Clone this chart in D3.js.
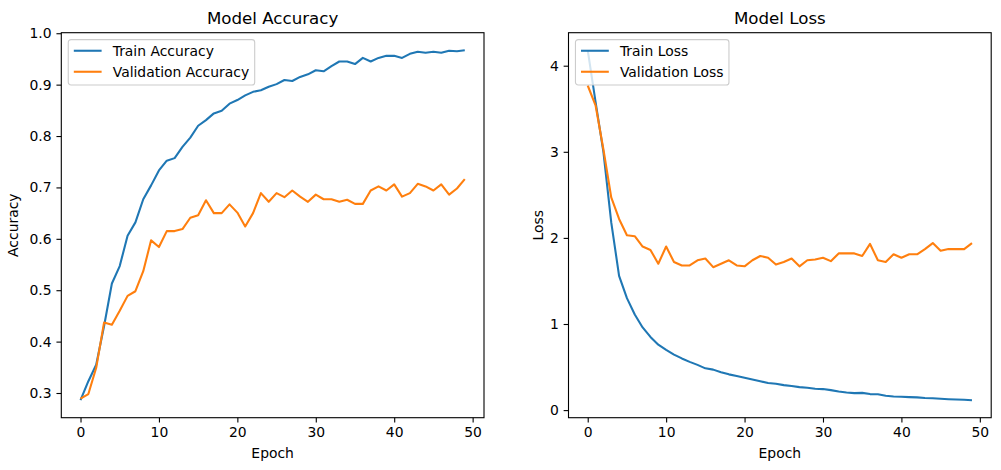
<!DOCTYPE html>
<html>
<head>
<meta charset="utf-8">
<script src="https://cdn.jsdelivr.net/npm/d3@7"></script>
<style>
  html, body { margin: 0; padding: 0; background: #fff; }
  svg { display: block; }
  text { font-family: "DejaVu Sans", sans-serif; fill: #000; }
</style>
</head>
<body>
<svg id="chart" width="1001" height="470"></svg>
<script>
// ---- data ----
const epochs = [0,1,2,3,4,5,6,7,8,9,10,11,12,13,14,15,16,17,18,19,20,21,22,23,24,25,26,27,28,29,30,31,32,33,34,35,36,37,38,39,40,41,42,43,44,45,46,47,48,49];

const trainAccuracy = [0.286,0.323,0.355,0.430,0.513,0.547,0.606,0.632,0.677,0.704,
  0.733,0.752,0.757,0.779,0.797,0.820,0.831,0.844,0.849,0.863,
  0.870,0.879,0.886,0.889,0.896,0.901,0.909,0.907,0.915,0.920,
  0.928,0.926,0.936,0.945,0.945,0.940,0.952,0.945,0.952,0.956,
  0.956,0.952,0.960,0.964,0.962,0.964,0.962,0.966,0.965,0.967];

const valAccuracy = [0.289,0.298,0.349,0.437,0.433,0.460,0.489,0.498,0.537,0.597,
  0.584,0.615,0.615,0.619,0.641,0.646,0.675,0.650,0.650,0.667,
  0.651,0.624,0.650,0.689,0.672,0.689,0.681,0.694,0.682,0.672,
  0.686,0.677,0.677,0.672,0.676,0.668,0.668,0.694,0.702,0.694,
  0.706,0.682,0.689,0.707,0.702,0.694,0.706,0.686,0.698,0.716];

const trainLoss = [4.18,3.58,3.00,2.18,1.56,1.30,1.11,0.96,0.85,0.76,
  0.70,0.645,0.60,0.56,0.525,0.485,0.47,0.44,0.415,0.395,
  0.375,0.355,0.335,0.315,0.305,0.29,0.28,0.267,0.26,0.248,
  0.244,0.232,0.216,0.205,0.197,0.20,0.186,0.184,0.166,0.158,
  0.155,0.151,0.148,0.14,0.137,0.131,0.127,0.123,0.121,0.115];

const valLoss = [3.77,3.54,3.03,2.47,2.22,2.03,2.02,1.90,1.86,1.70,
  1.90,1.72,1.68,1.68,1.74,1.76,1.66,1.70,1.74,1.68,
  1.67,1.74,1.79,1.77,1.69,1.72,1.76,1.67,1.74,1.75,
  1.77,1.73,1.82,1.82,1.82,1.79,1.93,1.74,1.72,1.81,
  1.77,1.81,1.81,1.87,1.94,1.85,1.87,1.87,1.87,1.94];

const xTicks = [0,10,20,30,40,50];
const accTicks = [0.3,0.4,0.5,0.6,0.7,0.8,0.9,1.0];
const lossTicks = [0,1,2,3,4];

const panels = [
  { title: "Model Accuracy", ylabel: "Accuracy", series: [
      { name: "Train Accuracy", values: trainAccuracy, color: "#1f77b4" },
      { name: "Validation Accuracy", values: valAccuracy, color: "#ff7f0e" } ],
    yTicks: accTicks, yFmt: d3.format(".1f"), x0: 61.3, ylabelX: 18.4 },
  { title: "Model Loss", ylabel: "Loss", series: [
      { name: "Train Loss", values: trainLoss, color: "#1f77b4" },
      { name: "Validation Loss", values: valLoss, color: "#ff7f0e" } ],
    yTicks: lossTicks, yFmt: d3.format("d"), x0: 568.5, ylabelX: 542.5 }
];

// ---- layout ----
const svg = d3.select("#chart");
const axTop = 32.7, H = 385, W = 422.7;
const fs = 13.9, tickLen = 4.86, tickPad = 4.86;

function padDomain(lo, hi) { const r = hi - lo; return [lo - 0.05*r, hi + 0.05*r]; }

panels.forEach(p => {
  const g = svg.append("g").attr("transform", `translate(${p.x0},${axTop})`);
  const xExt = d3.extent(epochs);
  const x = d3.scaleLinear().domain(padDomain(xExt[0], xExt[1])).range([0, W]);
  const all = p.series.flatMap(s => s.values);
  const y = d3.scaleLinear().domain(padDomain(d3.min(all), d3.max(all))).range([H, 0]);

  // lines
  const line = d3.line().x((d, i) => x(epochs[i])).y(d => y(d));
  p.series.forEach(s => {
    g.append("path").datum(s.values)
      .attr("d", line).attr("fill", "none")
      .attr("stroke", s.color).attr("stroke-width", 2.08)
      .attr("stroke-linejoin", "round").attr("stroke-linecap", "butt");
  });

  // axes
  const xa = g.append("g").attr("transform", `translate(0,${H})`)
    .call(d3.axisBottom(x).tickValues(xTicks).tickFormat(d3.format("d"))
      .tickSize(tickLen).tickPadding(tickPad));
  const ya = g.append("g")
    .call(d3.axisLeft(y).tickValues(p.yTicks).tickFormat(p.yFmt)
      .tickSize(tickLen).tickPadding(tickPad));
  [xa, ya].forEach(a => {
    a.select(".domain").remove();
    a.selectAll(".tick line").attr("stroke", "#000").attr("stroke-width", 1.1);
    a.selectAll(".tick text").attr("font-size", fs).attr("font-family", "DejaVu Sans, sans-serif").attr("fill", "#000");
  });

  // spines
  g.append("rect").attr("x", 0).attr("y", 0).attr("width", W).attr("height", H)
    .attr("fill", "none").attr("stroke", "#000").attr("stroke-width", 1.1);

  // title
  g.append("text").attr("x", W/2).attr("y", 24.4 - axTop)
    .attr("text-anchor", "middle").attr("font-size", 16.67).text(p.title);

  // x label
  g.append("text").attr("x", W/2).attr("y", 458 - axTop)
    .attr("text-anchor", "middle").attr("font-size", fs).text("Epoch");

  // y label
  svg.append("text")
    .attr("transform", `translate(${p.ylabelX},${axTop + H/2}) rotate(-90)`)
    .attr("text-anchor", "middle").attr("font-size", fs).text(p.ylabel);

  // legend
  const lg = g.append("g").attr("transform", `translate(6.95,6.95)`);
  const box = lg.append("rect");
  const rowY = [11.1, 32.1];
  const items = [];
  p.series.forEach((s, i) => {
    lg.append("line").attr("x1", 5.56).attr("x2", 5.56 + 27.8)
      .attr("y1", rowY[i]).attr("y2", rowY[i])
      .attr("stroke", s.color).attr("stroke-width", 2.08);
    items.push(lg.append("text").attr("x", 5.56 + 27.8 + 11.1).attr("y", rowY[i] + 5.0)
      .attr("font-size", fs).text(s.name));
  });
  const maxW = d3.max(items, t => t.node().getComputedTextLength());
  box.attr("x", 0).attr("y", 0).attr("width", 5.56 + 27.8 + 11.1 + maxW + 5.56)
    .attr("height", 45.4).attr("rx", 2.8).attr("ry", 2.8)
    .attr("fill", "#fff").attr("fill-opacity", 0.8)
    .attr("stroke", "#cccccc").attr("stroke-width", 1.1);
});
</script>
</body>
</html>
